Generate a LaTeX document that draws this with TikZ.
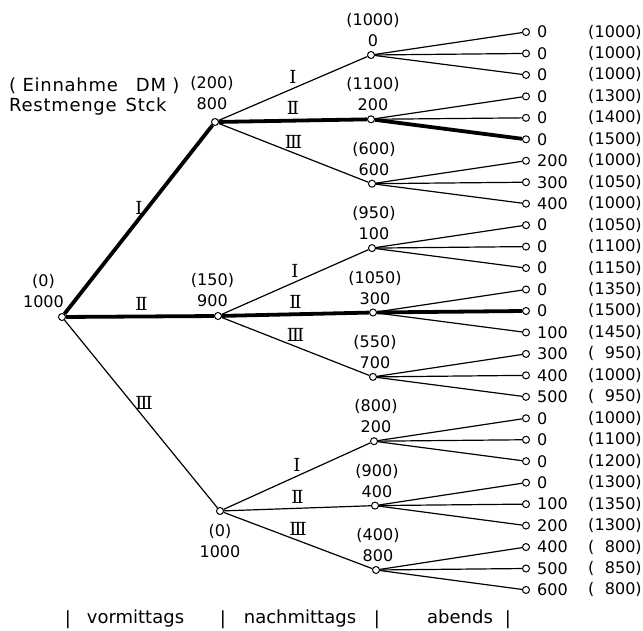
\documentclass[tikz,border=0pt]{standalone}
\usepackage{fontspec}
\newfontfamily\dvs{DejaVu Sans}
\newfontfamily\dvserif{DejaVu Serif}
\newfontfamily\dvsl{DejaVu Sans}[LetterSpace=4]
\begin{document}
\begin{tikzpicture}[x=1pt,y=-1pt,
  dot/.style={circle,draw,fill=white,inner sep=0pt,minimum size=7pt,line width=1pt},
  lin/.style={line width=1.2pt},
  heavy/.style={line width=3.8pt},
  num/.style={font=\dvs\fontsize{16}{21}\selectfont,inner sep=0pt},
  lab/.style={font=\dvsl\fontsize{18}{20}\selectfont,inner sep=0pt},
  per/.style={font=\dvs\fontsize{18}{20}\selectfont,inner sep=0pt},
  rom/.style={font=\dvserif\fontsize{18}{20}\selectfont,inner sep=0pt}]
\useasboundingbox (0,0) rectangle (643,631);

% leaves
\foreach \v/\p [count=\k from 0] in {0/1000,0/1000,0/1000,0/1300,0/1400,0/1500,200/1000,300/1050,400/1000,0/1050,0/1100,0/1150,0/1350,0/1500,100/1450,300/950,400/1000,500/950,0/1000,0/1100,0/1200,0/1300,100/1350,200/1300,400/800,500/850,600/800}{
  \node[dot] (l\k) at (526,{32+21.46*\k}) {};
  \node[num,anchor=west] (v\k) at (537,{32+21.46*\k}) {\v};
  \node[num,anchor=west] (e\k) at (588,{32+21.46*\k}) {\hbox to 53.5pt{(\hfill\p)}};
}

% root and level 1
\node[dot] (root) at (62,317) {};
\node[dot] (A) at (215,122) {};
\node[dot] (B) at (218,316) {};
\node[dot] (C) at (220,511) {};
\node[num,align=center,anchor=south east] (roott) at (64,308) {(0)\\1000};
\node[num,align=center,anchor=south] (At) at (212,110) {(200)\\800};
\node[num,align=center,anchor=south] (Bt) at (212.5,307) {(150)\\900};
\node[num,align=center,anchor=north] (Ct) at (220,524) {(0)\\1000};

% level 2
\node[dot] (A1) at (371,55) {};
\node[dot] (A2) at (371,119.3) {};
\node[dot] (A3) at (372,183.7) {};
\node[dot] (B1) at (372,248.1) {};
\node[dot] (B2) at (373,312.5) {};
\node[dot] (B3) at (373,376.9) {};
\node[dot] (C1) at (374,441.2) {};
\node[dot] (C2) at (375,505.6) {};
\node[dot] (C3) at (376,570) {};
\node[num,align=center,anchor=south] (A1t) at (373,47) {(1000)\\0};
\node[num,align=center,anchor=south] (A2t) at (373,111.3) {(1100)\\200};
\node[num,align=center,anchor=south] (A3t) at (374,175.7) {(600)\\600};
\node[num,align=center,anchor=south] (B1t) at (374,240.1) {(950)\\100};
\node[num,align=center,anchor=south] (B2t) at (375,304.5) {(1050)\\300};
\node[num,align=center,anchor=south] (B3t) at (375,368.9) {(550)\\700};
\node[num,align=center,anchor=south] (C1t) at (376,433.2) {(800)\\200};
\node[num,align=center,anchor=south] (C2t) at (377,497.6) {(900)\\400};
\node[num,align=center,anchor=south] (C3t) at (378,562) {(400)\\800};

% root edges
\draw[heavy] (root) -- node[rom,pos=0.56,anchor=east,xshift=-3pt] {Ⅰ} (A);
\draw[heavy] (root) -- node[rom,pos=0.51,above=4pt] {Ⅱ} (B);
\draw[lin] (root) -- node[rom,pos=0.44,anchor=west,xshift=3pt] {Ⅲ} (C);

% level 1 -> level 2
\draw[lin] (A) -- node[rom,above=4pt] {Ⅰ} (A1);
\draw[heavy] (A) -- node[rom,above=4pt] {Ⅱ} (A2);
\draw[lin] (A) -- node[rom,above=4pt] {Ⅲ} (A3);
\draw[lin] (B) -- node[rom,above=4pt] {Ⅰ} (B1);
\draw[heavy] (B) -- node[rom,above=4pt] {Ⅱ} (B2);
\draw[lin] (B) -- node[rom,above=4pt] {Ⅲ} (B3);
\draw[lin] (C) -- node[rom,above=4pt] {Ⅰ} (C1);
\draw[lin] (C) -- node[rom,above=4pt] {Ⅱ} (C2);
\draw[lin] (C) -- node[rom,above=4pt] {Ⅲ} (C3);

% level 2 -> leaves
\draw[lin] (A1) -- (l0); \draw[lin] (A1) -- (l1); \draw[lin] (A1) -- (l2);
\draw[lin] (A2) -- (l3); \draw[lin] (A2) -- (l4); \draw[heavy] (A2) -- (l5);
\draw[lin] (A3) -- (l6); \draw[lin] (A3) -- (l7); \draw[lin] (A3) -- (l8);
\draw[lin] (B1) -- (l9); \draw[lin] (B1) -- (l10); \draw[lin] (B1) -- (l11);
\draw[lin] (B2) -- (l12); \draw[heavy] (B2) -- (l13); \draw[lin] (B2) -- (l14);
\draw[lin] (B3) -- (l15); \draw[lin] (B3) -- (l16); \draw[lin] (B3) -- (l17);
\draw[lin] (C1) -- (l18); \draw[lin] (C1) -- (l19); \draw[lin] (C1) -- (l20);
\draw[lin] (C2) -- (l21); \draw[lin] (C2) -- (l22); \draw[lin] (C2) -- (l23);
\draw[lin] (C3) -- (l24); \draw[lin] (C3) -- (l25); \draw[lin] (C3) -- (l26);

% header (base anchor of a multi-line node is the last line's baseline)
\node[lab,align=left,anchor=base west] (hdr) at (9,112) {(\ Einnahme\quad DM\ )\\Restmenge\enspace Stck};

% bottom time axis
\node[per,anchor=base] (bar1) at (68,624) {|};
\node[per,anchor=base] (w1) at (135.5,623) {vormittags};
\node[per,anchor=base] (bar2) at (223,624) {|};
\node[per,anchor=base] (w2) at (300,623) {nachmittags};
\node[per,anchor=base] (bar3) at (377,624) {|};
\node[per,anchor=base] (w3) at (460,623) {abends};
\node[per,anchor=base] (bar4) at (508,624) {|};
\end{tikzpicture}
\end{document}
